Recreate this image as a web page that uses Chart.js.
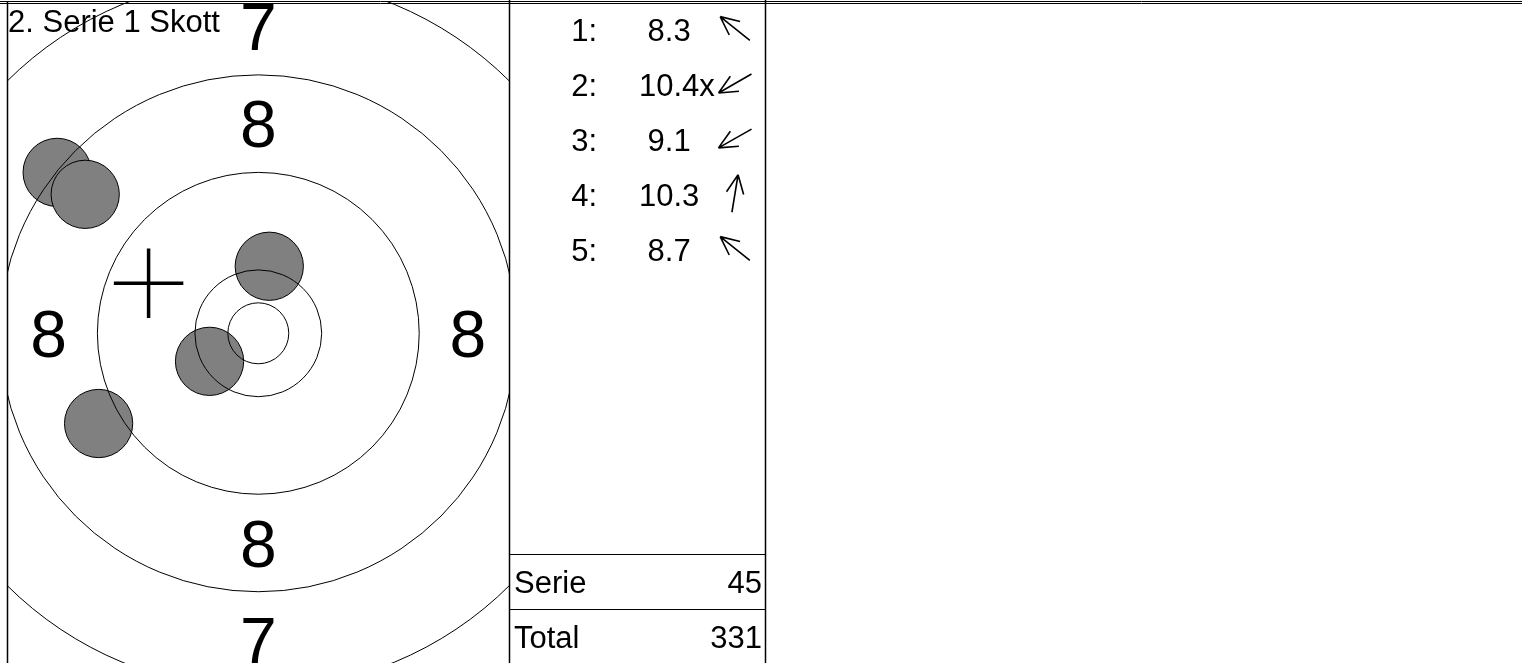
<!DOCTYPE html>
<html>
<head>
<meta charset="utf-8">
<title>2. Serie 1 Skott</title>
<script src="https://cdn.jsdelivr.net/npm/chart.js@4.4.1/dist/chart.umd.min.js"></script>
<style>
  html, body { margin: 0; padding: 0; background: #fff; }
  #wrap { position: relative; width: 1522px; height: 663px; overflow: hidden; }
</style>
</head>
<body>
<div id="wrap"><canvas id="targetChart" width="1522" height="663"></canvas></div>
<script>
'use strict';

/* Data (target coordinates in mm, x to the right, y up) */
var shotNo = [1, 2, 3, 4, 5];
var shotX = [-16.5, -4.0, -13.1, 0.9, -14.2];
var shotY = [13.2, -2.3, -7.4, 5.5, 11.4];
var shotScore = ['8.3', '10.4x', '9.1', '10.3', '8.7'];
var meanX = -9.0;
var meanY = 4.1;
var ringRadius = [2.5, 5.2, 13.2, 21.2, 29.2];
var ringLabel = ['8', '7'];
var ringLabelRadius = [17.2, 25.2];
var seriesTitle = '2. Serie 1 Skott';
var serieLabel = 'Serie';
var serieSum = '45';
var totalLabel = 'Total';
var totalSum = '331';

var bulletRadius = 2.8;
var crossRadius = 2.85;

var FONT = '"Liberation Sans", Arial, Helvetica, sans-serif';
var TEXT_SIZE = 31;

function mmToPx(chart, mm) {
  var sx = chart.scales.x;
  return Math.abs(sx.getPixelForValue(mm) - sx.getPixelForValue(0));
}

function hLine(c, x1, x2, y) {
  c.beginPath(); c.moveTo(x1, y); c.lineTo(x2, y); c.stroke();
}

function vLine(c, x, y1, y2) {
  c.beginPath(); c.moveTo(x, y1); c.lineTo(x, y2); c.stroke();
}

// arrow pointing in the shot's direction from the centre
function drawArrow(c, cx, cy, dx, dy) {
  var len = Math.sqrt(dx * dx + dy * dy);
  var ux = dx / len, uy = -dy / len;
  var half = 19, barb = 20.5, ang = 25 * Math.PI / 180;
  var tx = cx + ux * half, ty = cy + uy * half;
  c.beginPath();
  c.moveTo(cx - ux * half, cy - uy * half);
  c.lineTo(tx, ty);
  [ang, -ang].forEach(function(t) {
    var vx = -ux, vy = -uy;
    var bx = vx * Math.cos(t) - vy * Math.sin(t);
    var by = vx * Math.sin(t) + vy * Math.cos(t);
    c.moveTo(tx, ty);
    c.lineTo(tx + bx * barb, ty + by * barb);
  });
  c.stroke();
}

var targetDecor = {
  id: 'targetDecor',
  beforeDraw: function(chart) {
    var c = chart.ctx;
    c.save();
    c.fillStyle = '#fff';
    c.fillRect(0, 0, chart.width, chart.height);
    c.fillStyle = '#000';
    c.font = TEXT_SIZE + 'px ' + FONT;
    c.textAlign = 'left';
    c.textBaseline = 'alphabetic';
    c.fillText(seriesTitle, 8, 32);
    c.restore();
  },
  afterDatasetsDraw: function(chart) {
    var c = chart.ctx, a = chart.chartArea;
    var sx = chart.scales.x, sy = chart.scales.y;
    c.save();
    c.beginPath();
    c.rect(a.left, a.top, a.right - a.left, a.bottom - a.top);
    c.clip();
    c.fillStyle = '#000';
    c.font = '66px ' + FONT;
    c.textAlign = 'center';
    c.textBaseline = 'alphabetic';
    ringLabel.forEach(function(lbl, i) {
      var r = ringLabelRadius[i];
      [[0, r], [0, -r], [r, 0], [-r, 0]].forEach(function(p) {
        c.fillText(lbl, sx.getPixelForValue(p[0]), sy.getPixelForValue(p[1]) + 66 * 0.358);
      });
    });
    c.restore();
  },
  afterDraw: function(chart) {
    var c = chart.ctx, a = chart.chartArea;
    var listLeft = a.right, listRight = 766;
    c.save();
    c.strokeStyle = '#000';
    c.lineWidth = 1;
    hLine(c, 0, chart.width, 1.5);
    hLine(c, 0, chart.width, 3.5);
    c.lineWidth = 1.5;
    vLine(c, a.left + 0.5, 1, chart.height);
    vLine(c, listLeft + 0.5, 0, chart.height);
    vLine(c, listRight - 0.5, 0, chart.height);
    c.lineWidth = 1.2;
    hLine(c, listLeft, listRight, 554.5);
    hLine(c, listLeft, listRight, 609.5);

    c.fillStyle = '#000';
    c.font = TEXT_SIZE + 'px ' + FONT;
    c.textBaseline = 'alphabetic';
    var space = c.measureText(' ').width;
    shotNo.forEach(function(n, i) {
      var base = 41 + i * 55;
      c.textAlign = 'right';
      c.fillText(n + ':', 597, base);
      c.textAlign = 'left';
      var s = shotScore[i];
      var pad = parseFloat(s) < 10 ? space : 0;
      c.fillText(s, 639 + pad, base);
      c.lineWidth = 1.6;
      drawArrow(c, 735, base - 12.5, shotX[i], shotY[i]);
    });

    c.textAlign = 'left';
    c.fillText(serieLabel, 514, 593);
    c.fillText(totalLabel, 514, 648);
    c.textAlign = 'right';
    c.fillText(serieSum, 762, 593);
    c.fillText(totalSum, 762, 648);
    c.restore();
  }
};

var ctx = document.getElementById('targetChart').getContext('2d');
var pxPerMm = 12.19;
var centreX = 258.3, centreY = 333.3;
var areaLeft = 7, areaRight = 509, areaTop = 2, areaBottom = 663;

var targetChart = new Chart(ctx, {
  type: 'scatter',
  data: {
    datasets: [{
      label: 'Ringar',
      order: 0,
      clip: 0,
      data: ringRadius.map(function() { return { x: 0, y: 0 }; }),
      pointRadius: function(c) { return mmToPx(c.chart, ringRadius[c.dataIndex]); },
      pointBackgroundColor: 'rgba(0,0,0,0)',
      pointBorderColor: '#000',
      pointBorderWidth: 1
    }, {
      label: 'Medelträff',
      order: 1,
      clip: 0,
      data: [{ x: meanX, y: meanY }],
      pointStyle: 'cross',
      pointRadius: function(c) { return mmToPx(c.chart, crossRadius); },
      pointBorderColor: '#000',
      pointBorderWidth: 3.5
    }, {
      label: 'Skott',
      order: 2,
      clip: 0,
      data: shotX.map(function(x, i) { return { x: x, y: shotY[i] }; }),
      pointRadius: function(c) { return mmToPx(c.chart, bulletRadius); },
      pointBackgroundColor: '#808080',
      pointBorderColor: '#000',
      pointBorderWidth: 1
    }]
  },
  options: {
    responsive: false,
    animation: false,
    devicePixelRatio: 1,
    events: [],
    layout: {
      padding: { left: areaLeft, right: 1522 - areaRight, top: areaTop, bottom: 663 - areaBottom }
    },
    scales: {
      x: {
        type: 'linear', display: false,
        min: (areaLeft - centreX) / pxPerMm,
        max: (areaRight - centreX) / pxPerMm
      },
      y: {
        type: 'linear', display: false,
        min: (centreY - areaBottom) / pxPerMm,
        max: (centreY - areaTop) / pxPerMm
      }
    },
    plugins: {
      legend: { display: false },
      tooltip: { enabled: false },
      title: { display: false }
    }
  },
  plugins: [targetDecor]
});
</script>
</body>
</html>
